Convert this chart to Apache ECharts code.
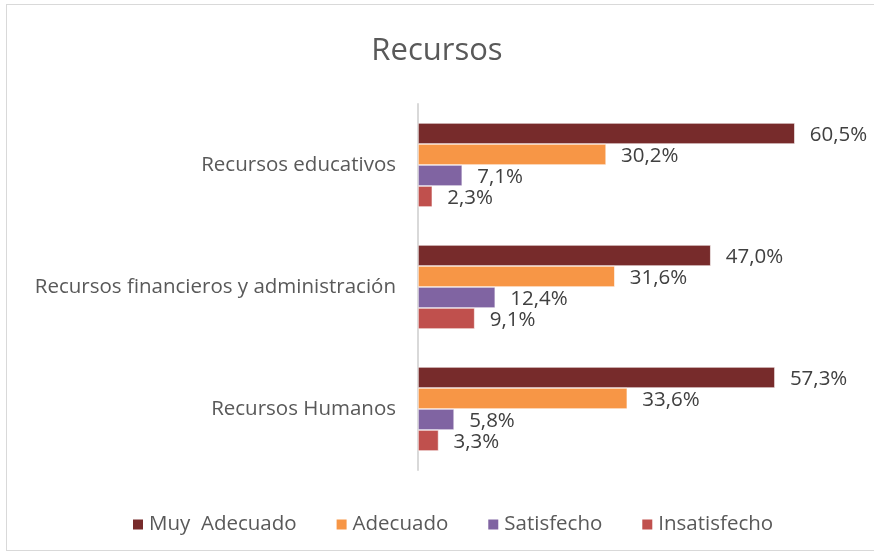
<!DOCTYPE html>
<html>
<head>
<meta charset="utf-8">
<script src="https://cdn.jsdelivr.net/npm/echarts@6/dist/echarts.min.js"></script>
<style>
  html, body { margin: 0; padding: 0; background: #fff; }
  #frame { position: absolute; left: 6px; top: 4px; width: 880px; height: 547px; border: 1px solid #d9d9d9; box-sizing: border-box; }
  #chart { position: absolute; left: 0; top: 0; width: 874px; height: 554px; }
</style>
</head>
<body>
<div id="frame"></div>
<div id="chart"></div>
<script>
const categories = ['Recursos educativos', 'Recursos financieros y administración', 'Recursos Humanos']
const seriesNames = ['Muy  Adecuado', 'Adecuado', 'Satisfecho', 'Insatisfecho']
const muyAdecuado = [60.5, 47.0, 57.3]
const adecuado = [30.2, 31.6, 33.6]
const satisfecho = [7.1, 12.4, 5.8]
const insatisfecho = [2.3, 9.1, 3.3]
const colors = ['#772B2B', '#F79646', '#8064A2', '#C0504D']

const font = '"Open Sans", "Liberation Sans", sans-serif'
const values = [muyAdecuado, adecuado, satisfecho, insatisfecho]

let chart = echarts.init(document.getElementById('chart'))
chart.setOption({
  animation: false,
  textStyle: { fontFamily: font },
  title: {
    text: 'Recursos',
    left: 'center',
    top: 31,
    textStyle: { fontFamily: font, fontSize: 31, fontWeight: 'normal', color: '#595959' }
  },
  legend: {
    data: seriesNames,
    left: 126,
    top: 509,
    itemWidth: 12,
    itemHeight: 12,
    itemGap: 38,
    icon: 'rect',
    textStyle: { fontFamily: font, fontSize: 20.5, color: '#595959' }
  },
  grid: { left: 418, right: 20, top: 104, bottom: 84 },
  xAxis: {
    type: 'value',
    min: 0,
    max: 70,
    show: false
  },
  yAxis: {
    type: 'category',
    data: categories,
    inverse: true,
    axisLine: { lineStyle: { color: '#d9d9d9', width: 2 } },
    axisTick: { show: false },
    axisLabel: { fontFamily: font, fontSize: 20.5, color: '#595959', margin: 22 }
  },
  series: values.map((v, i) => ({
    name: seriesNames[i],
    type: 'bar',
    data: v,
    barWidth: 21,
    barGap: '0%',
    itemStyle: { color: colors[i], borderColor: '#fff', borderWidth: 0.6 },
    label: {
      show: true,
      position: 'right',
      distance: 15,
      offset: [0, 2],
      fontFamily: font,
      fontSize: 20.5,
      color: '#404040',
      formatter: p => p.value.toFixed(1).replace('.', ',') + '%'
    }
  }))
})
</script>
</body>
</html>
